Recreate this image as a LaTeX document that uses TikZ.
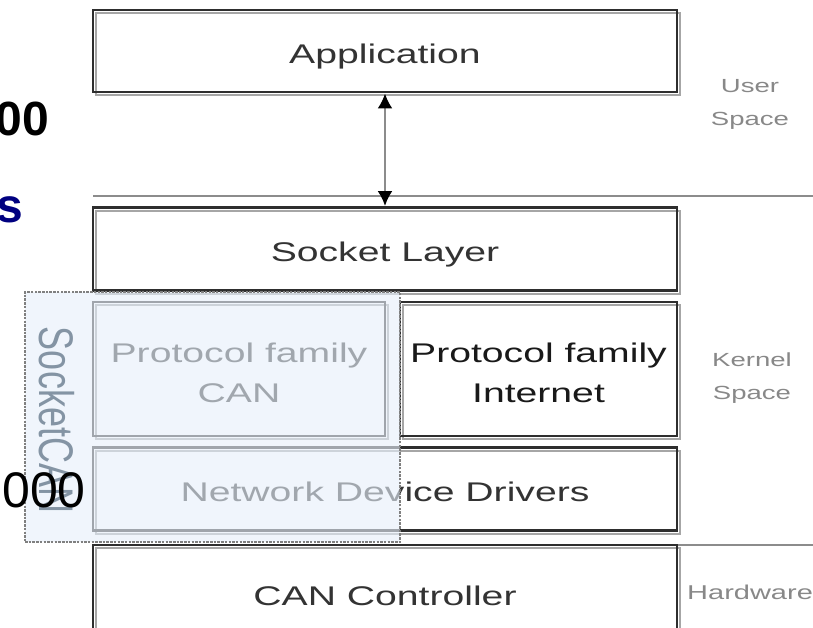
\documentclass[tikz,border=0pt]{standalone}
\usepackage{fontspec}
\setmainfont{Liberation Sans}[FakeStretch=1.45]
\newfontfamily\plainsans{Liberation Sans}
\usetikzlibrary{arrows.meta}
\definecolor{boxline}{HTML}{2E2E2E}
\definecolor{txt}{HTML}{333333}
\definecolor{sidetxt}{HTML}{888888}
\definecolor{sep}{HTML}{8C8C8C}
\definecolor{ovl}{HTML}{E6EFFA}
\definecolor{scan}{HTML}{8494A4}
\definecolor{navyfrag}{RGB}{0,0,128}
\begin{document}
\begin{tikzpicture}[x=1pt,y=-1pt,
  layerbox/.style={draw=boxline, line width=2.8pt, inner sep=0, align=center,
    text=txt, font=\fontsize{27}{40}\selectfont, text height=25pt, text depth=0pt,
    preaction={draw=black!35, line width=2pt, transform canvas={shift={(3pt,-3pt)}}}},
  boxtext/.style={inner sep=0, align=center, text=txt, font=\fontsize{27}{40}\selectfont},
  sidelabel/.style={text=sidetxt, align=center, inner sep=0, font=\fontsize{19}{33}\selectfont},
  sepline/.style={draw=sep, line width=1.6pt},
  overlay/.style={fill=ovl, fill opacity=0.62, draw=black!50, line width=1.5pt, dash pattern=on 2.5pt off 1.2pt, inner sep=0},
  fragment/.style={inner sep=0, anchor=east}
]
\useasboundingbox (0,0) rectangle (813,627);
\clip (0,0) rectangle (813,627);

% separators
\coordinate (s1l) at (93,196);
\coordinate (s1r) at (813,196);
\coordinate (s2l) at (677,545);
\coordinate (s2r) at (813,545);
\draw[sepline] (s1l) -- (s1r);
\draw[sepline] (s2l) -- (s2r);

% layer boxes
\node[layerbox, minimum width=584, minimum height=82] (app) at (385,51) {Application};
\node[layerbox, minimum width=584, minimum height=83] (sock) at (385,249) {Socket Layer};
\node[layerbox, minimum width=292, minimum height=134] (pcan) at (239,369) {};
\node[boxtext] (pcant) at (239,373) {Protocol family\\CAN};
\node[layerbox, minimum width=277, minimum height=134] (pinet) at (538.5,369) {};
\node[boxtext, text=black!90] (pinett) at (538.5,373) {Protocol family\\Internet};
\node[layerbox, minimum width=584, minimum height=83] (ndd) at (385,489) {Network Device Drivers};
\node[layerbox, minimum width=584, minimum height=95] (canc) at (385,592.5) {CAN Controller};

% arrow
\draw[draw=sep, line width=2.6pt,
  {Latex[black,length=15pt,width=15pt]}-{Latex[black,length=15pt,width=15pt]}]
  (app.south) -- (sock.north);

% SocketCAN overlay
\node[overlay, minimum width=375, minimum height=250] (sc) at (212.5,417) {};
\node[inner sep=0, rotate=-90, text=scan] (sclabel) at (57,420)
  {\scalebox{1}[1.35]{\plainsans\fontsize{36}{36}\selectfont SocketCAN}};

% side labels
\node[sidelabel] (user) at (750,104) {User\\Space};
\node[sidelabel] (kern) at (752,378) {Kernel\\Space};
\node[sidelabel, anchor=west, font=\fontsize{20}{20}\selectfont] (hw) at (687,592) {Hardware};

% cut-off fragments from the slide behind
\node[fragment, font=\plainsans\bfseries\fontsize{48}{48}\selectfont] (f1) at (49,119) {00};
\node[fragment, font=\plainsans\bfseries\fontsize{48}{48}\selectfont, text=navyfrag] (f2) at (23,210) {s};
\node[fragment, font=\plainsans\fontsize{50}{50}\selectfont] (f3) at (86,490) {000};
\end{tikzpicture}
\end{document}
